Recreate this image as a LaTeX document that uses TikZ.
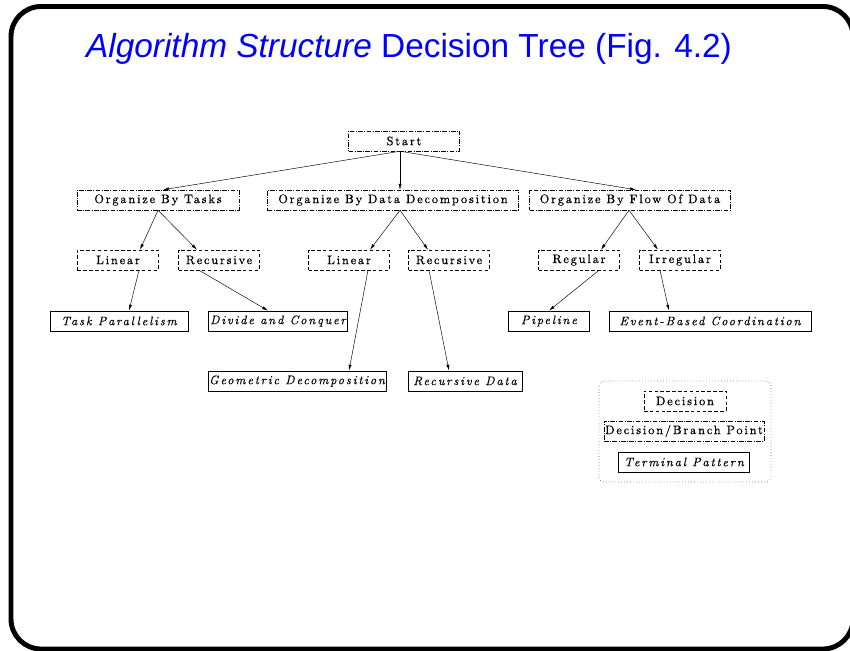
\documentclass[tikz,border=0pt]{standalone}
\usepackage{fontspec}
\usetikzlibrary{calc,arrows.meta}

\newfontfamily\treefont{lmroman10-regular.otf}[LetterSpace=15, FakeBold=0.6, ItalicFont=lmroman10-italic.otf, ItalicFeatures={FakeBold=0.2}]
\newfontfamily\titlefont{Liberation Sans}

\tikzset{
  decision/.style = {draw, densely dashed, shape = rectangle, minimum width = 2.43cm, minimum height = 0.6cm, inner sep = 1pt, font = \treefont\fontsize{10.5}{12}\selectfont},
  branchpoint/.style = {draw, dash pattern = on 4pt off 1.2pt on 0.8pt off 1.2pt, shape = rectangle, minimum height = 0.6cm, inner sep = 1pt, font = \treefont\fontsize{10.5}{12}\selectfont},
  terminal/.style = {draw, semithick, shape = rectangle, minimum height = 0.6cm, inner sep = 1pt, font = \treefont\fontsize{10.5}{12}\selectfont\itshape},
  treeedge/.style = {-{Latex[length=5pt, width=2.6pt]}, thin},
}

\begin{document}
\begin{tikzpicture}[x = 0.03cm, y = -0.03cm]
\useasboundingbox (0,0) rectangle (850,650);
\draw[line width = 4.2pt, rounded corners = 0.9cm] (11,6.5) rectangle (853,649);
\node[font = \titlefont\fontsize{28.5}{34}\selectfont, text = blue] (0) at (409,49) {\textit{Algorithm Structure} Decision Tree (Fig. 4.2)};

\node[branchpoint, minimum width = 3.33cm] (1) at (404,141) {Start};
\node[branchpoint, minimum width = 4.86cm] (2) at (158,200) {Organize By Tasks};
\node[branchpoint, minimum width = 7.53cm] (3) at (393,200) {Organize By Data Decomposition};
\node[branchpoint, minimum width = 6.03cm] (4) at (630,200) {Organize By Flow Of Data};
\node[decision] (5) at (118,260) {Linear};
\node[decision] (6) at (219,260) {Recursive};
\node[decision] (7) at (349,260) {Linear};
\node[decision] (8) at (449,260) {Recursive};
\node[decision] (9) at (579,260) {Regular};
\node[decision] (10) at (680,260) {Irregular};
\node[terminal, minimum width = 4.14cm] (11) at (119,321) {Task Parallelism};
\node[terminal, minimum width = 4.17cm] (12) at (278,321) {Divide and Conquer};
\node[terminal, minimum width = 2.43cm] (13) at (549,321) {Pipeline};
\node[terminal, minimum width = 6.06cm] (14) at (710,321) {Event-Based Coordination};
\node[terminal, minimum width = 5.34cm] (15) at (297,381) {Geometric Decomposition};
\node[terminal, minimum width = 3.42cm] (16) at (465,381) {Recursive Data};

\begin{scope}[treeedge]
\draw ($(1.south)+(-4,0)$) -- ($(2.north)+(5,0)$);
\draw ($(1.south)+(-4,0)$) -- ($(3.north)+(7,0)$);
\draw ($(1.south)+(-4,0)$) -- ($(4.north)+(6,0)$);
\draw (2.south) -- ($(5.north)+(22,0)$);
\draw (2.south) -- ($(6.north)+(-22,0)$);
\draw ($(3.south)+(7,0)$) -- ($(7.north)+(21,0)$);
\draw ($(3.south)+(7,0)$) -- ($(8.north)+(-21,0)$);
\draw ($(4.south)+(-1,0)$) -- ($(9.north)+(22,0)$);
\draw ($(4.south)+(-1,0)$) -- ($(10.north)+(-22,0)$);
\draw ($(5.south)+(21,0)$) -- ($(11.north)+(10,0)$);
\draw ($(6.south)+(-20,0)$) -- ($(12.north)+(-10,0)$);
\draw ($(7.south)+(19,0)$) -- ($(15.north)+(52,0)$);
\draw ($(8.south)+(-20,0)$) -- ($(16.north)+(-16,0)$);
\draw ($(9.south)+(20,0)$) -- (13.north);
\draw ($(10.south)+(-20,0)$) -- ($(14.north)+(-41,0)$);
\end{scope}

% legend
\draw[dotted, gray, line width = 0.6pt, rounded corners = 0.15cm] (599,381) rectangle (771,482);
\node[decision, minimum width = 2.46cm] (17) at (685,401) {Decision};
\node[branchpoint, minimum width = 4.53cm] (18) at (684,431) {Decision/Branch Point};
\node[terminal, minimum width = 3.93cm] (19) at (684,462) {Terminal Pattern};
\end{tikzpicture}
\end{document}
